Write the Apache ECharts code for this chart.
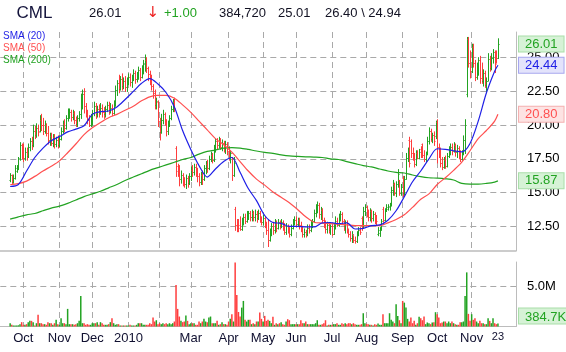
<!DOCTYPE html>
<html>
<head>
<meta charset="utf-8">
<title>CML</title>
<script src="https://cdn.jsdelivr.net/npm/echarts@6/dist/echarts.min.js"></script>
<style>
html, body { margin: 0; padding: 0; background: #fff; }
#main { width: 566px; height: 352px; }
</style>
</head>
<body>
<div id="main"></div>
<script>
var symbolName = 'CML';
var holidays = ['2009-11-26', '2009-12-25', '2010-01-01', '2010-01-18', '2010-02-15',
    '2010-04-02', '2010-05-31', '2010-07-05', '2010-09-06'];
// labels of the month gridlines, in order (Feb has a line but no label)
var monthTicks = ['Oct', 'Nov', 'Dec', '2010', '', 'Mar', 'Apr', 'May', 'Jun', 'Jul', 'Aug', 'Sep', 'Oct', 'Nov'];
var endLabel = '23';
var priceTicks = [12.5, 15, 17.5, 20, 22.5, 25];
var volumeTicks = [5];

// daily bars: [open, close, low, high]
var ohlc = [
    // Sep 2009
    [15.9,16.3,15.8,16.4],[16.3,15.8,15.6,16.3],[15.8,16.1,15.7,16.3],[16.1,16.8,16.0,17.0],[16.6,16.9,16.5,17.0],[16.9,17.5,16.7,17.6],[17.6,18.5,17.4,18.7],[18.5,17.8,17.5,18.6],
    // Oct
    [18.4,17.6,17.3,18.6],[17.6,18.0,17.4,18.3],[18.0,17.7,17.4,18.3],[17.7,18.4,17.6,18.6],[18.4,18.8,18.1,19.0],[18.8,18.5,18.2,19.1],[18.5,19.6,18.4,20.0],[19.6,19.3,19.0,19.9],[19.3,19.8,19.1,20.1],[19.8,19.5,19.2,20.0],[19.6,20.4,19.5,20.7],[20.4,20.0,19.6,20.8],[20.0,19.6,19.3,20.5],[19.6,20.0,19.4,20.3],[20.0,19.4,19.2,20.1],[19.4,18.9,18.6,19.9],[18.9,19.2,18.5,19.4],[19.2,18.7,18.5,19.4],[18.7,19.1,18.4,19.3],[19.1,18.6,18.3,19.3],[18.6,18.9,18.4,19.1],[18.9,18.5,18.3,19.2],
    // Nov
    [18.5,19.0,18.4,19.2],[19.0,19.6,18.9,19.8],[19.6,20.1,19.4,20.3],[20.1,19.8,19.5,20.4],[19.8,20.5,19.7,20.7],[20.5,20.9,20.3,21.2],[20.9,21.0,20.5,21.2],[21.0,20.6,20.3,21.1],[20.6,20.9,20.4,21.1],[20.9,20.4,20.1,21.0],[20.4,20.1,19.9,20.6],[20.1,20.5,19.9,20.7],[20.5,20.8,20.3,21.0],[20.8,21.9,20.5,22.3],[21.9,22.3,21.2,22.6],[22.3,21.4,20.9,22.7],[21.4,20.9,20.6,21.6],[20.9,20.4,20.1,21.1],[20.4,20.0,19.9,20.7],[20.0,20.6,19.9,20.8],
    // Dec
    [20.6,20.9,20.0,21.1],[20.9,21.4,20.7,21.7],[21.4,20.8,20.5,21.6],[20.8,21.2,20.6,21.4],[21.2,20.9,20.6,21.5],[20.9,21.3,20.8,21.6],[21.3,21.0,20.6,21.5],[21.0,20.8,20.5,21.3],[20.8,21.2,20.6,21.4],[21.2,21.5,21.0,21.7],[21.5,21.0,20.8,21.7],[21.0,21.3,20.9,21.6],[21.3,20.9,20.7,21.5],[20.9,21.6,20.8,21.8],[21.6,22.6,21.4,22.9],[22.6,23.1,22.2,23.3],[23.1,22.7,22.4,23.7],[22.7,23.4,22.6,23.6],[23.4,22.9,22.6,23.8],[22.9,23.3,22.7,23.5],[23.3,22.8,22.5,23.6],[22.8,23.2,22.5,23.5],
    // Jan 2010
    [23.2,23.6,23.0,23.8],[23.6,23.2,22.9,23.8],[23.2,23.5,22.8,23.7],[23.5,23.9,23.3,24.1],[23.9,23.4,23.1,24.0],[23.4,23.7,23.2,23.9],[23.7,24.1,23.4,24.3],[24.1,23.6,23.3,24.2],[23.6,24.2,23.5,24.4],[24.2,24.6,23.8,24.8],[24.5,24.9,24.0,25.2],[24.8,24.2,23.9,25.0],[24.2,23.8,23.3,24.3],[23.8,23.5,23.0,24.0],[23.5,22.9,22.6,23.7],[22.9,22.4,22.0,23.0],[22.4,21.5,21.2,22.6],[21.5,21.8,21.2,22.0],[21.7,20.3,19.9,21.8],
    // Feb
    [20.3,19.5,18.9,20.5],[19.5,20.4,19.4,20.8],[20.4,20.8,20.1,21.1],[20.8,20.3,20.0,20.9],[20.3,19.6,19.2,20.4],[19.6,20.1,19.3,20.3],[20.1,20.5,19.9,20.7],[20.5,21.2,20.4,21.4],[21.2,21.6,21.0,21.9],[21.7,21.3,21.0,22.0],[18.3,16.6,16.2,18.4],[17.0,16.5,16.2,17.1],[16.5,16.0,15.5,17.0],[16.0,16.3,15.7,16.6],[16.3,15.8,15.5,16.4],[15.8,15.6,15.4,16.1],[15.6,16.1,15.3,16.3],[16.1,15.7,15.4,16.2],[15.7,16.2,15.6,16.4],
    // Mar
    [16.2,16.7,15.9,16.9],[16.7,16.5,16.2,17.0],[16.5,16.9,16.3,17.1],[16.9,16.6,16.2,17.1],[16.6,16.2,15.8,16.8],[16.2,15.8,15.5,16.4],[15.8,16.3,15.6,16.5],[16.3,16.0,15.6,16.6],[16.0,16.8,15.9,17.0],[16.8,17.1,16.4,17.3],[17.1,16.8,16.5,17.4],[16.8,17.5,16.7,17.7],[17.5,17.8,17.3,18.0],[17.8,17.4,17.2,17.9],[17.4,18.2,17.3,18.5],[18.2,18.8,18.0,19.0],[18.8,18.5,18.2,19.0],[18.5,18.9,18.3,19.1],[18.9,18.4,18.2,19.0],[18.4,18.7,18.1,18.9],[18.7,18.3,18.0,18.8],[18.3,18.6,17.9,18.8],[18.6,18.1,17.8,18.7],
    // Apr
    [18.1,17.6,17.4,18.4],[17.6,17.9,17.2,18.1],[17.9,16.3,15.9,17.6],[16.3,17.2,16.2,17.6],[13.8,12.6,12.2,13.9],[12.6,12.3,12.1,13.0],[12.8,12.4,12.1,13.0],[12.6,12.3,12.2,13.2],[12.3,12.9,12.2,13.1],[12.9,13.2,12.6,13.4],[13.2,12.9,12.7,13.4],[12.9,13.3,12.8,13.6],[13.3,13.5,13.0,13.6],[13.5,13.2,12.9,13.6],[13.2,13.5,12.9,13.7],[13.5,13.2,12.9,13.6],[13.2,13.4,12.9,13.7],[13.4,13.1,12.8,13.6],[13.1,13.5,13.0,13.7],[13.5,13.0,12.8,13.6],[13.0,12.8,12.6,13.2],
    // May
    [12.8,13.1,12.6,13.3],[13.1,12.6,12.4,13.2],[12.6,12.2,11.9,12.8],[12.2,11.5,11.0,13.0],[11.5,12.1,11.4,12.3],[12.1,12.5,11.8,12.7],[12.5,12.2,11.9,12.8],[12.2,12.7,12.0,13.0],[12.7,12.4,12.1,12.9],[12.4,12.8,12.3,13.0],[12.8,12.5,12.3,12.9],[12.5,12.8,12.4,13.0],[12.8,12.4,12.2,12.9],[12.4,12.1,11.9,12.7],[12.1,12.5,11.9,12.7],[12.5,12.2,12.0,12.6],[12.2,11.9,11.7,12.4],[11.9,12.4,11.8,12.6],[12.4,12.8,12.3,13.0],[12.8,13.0,12.6,13.2],
    // Jun
    [13.0,12.7,12.5,13.2],[12.7,13.0,12.5,13.1],[13.0,12.6,12.3,13.1],[12.6,12.3,12.1,12.8],[12.3,11.9,11.7,12.5],[11.9,12.1,11.7,12.3],[12.1,11.9,11.7,12.2],[11.9,12.4,11.8,12.6],[12.4,12.2,12.0,12.6],[12.2,12.7,12.1,12.9],[12.7,12.9,12.4,13.0],[12.9,13.5,12.8,13.7],[13.5,13.9,13.2,14.1],[13.9,14.1,13.5,14.3],[14.1,13.4,13.1,14.2],[13.4,13.7,13.0,13.9],[13.7,13.0,12.8,13.8],[13.0,12.7,12.4,13.1],[12.7,12.3,12.0,12.9],[12.3,12.6,12.0,12.8],[12.6,12.2,12.0,12.7],[12.2,12.5,11.9,12.6],
    // Jul
    [12.5,11.9,11.8,12.6],[11.9,12.4,11.9,12.7],[12.4,12.9,12.3,13.2],[12.9,12.6,12.5,13.1],[12.6,13.2,12.5,13.4],[13.2,13.4,12.9,13.6],[13.4,12.9,12.7,13.5],[12.9,12.5,12.2,13.0],[12.5,12.8,12.0,12.9],[12.8,12.2,12.0,12.9],[12.2,11.9,11.7,12.3],[11.9,11.6,11.4,12.1],[11.6,11.9,11.3,12.1],[11.9,11.5,11.3,11.8],[11.5,11.4,11.25,11.7],[11.4,11.9,11.3,12.1],[11.9,12.2,11.8,12.4],[12.2,12.1,11.9,12.4],[13.1,12.4,12.2,13.2],[12.4,13.6,12.4,13.9],[13.6,13.9,13.3,14.1],
    // Aug
    [13.9,13.4,13.2,14.0],[13.4,13.2,12.9,13.7],[13.2,13.6,12.9,13.8],[13.6,13.1,12.8,13.7],[13.1,13.4,12.9,13.6],[13.4,13.1,12.7,13.5],[13.1,12.9,12.6,13.3],[11.9,12.2,11.8,12.4],[12.0,12.3,11.75,12.4],[12.3,12.9,12.2,13.0],[13.8,13.0,12.8,13.9],[13.0,13.6,12.9,13.8],[13.6,13.9,13.6,14.1],[13.8,14.0,13.7,14.1],[13.9,14.1,13.7,14.2],[14.1,15.2,14.0,15.4],[15.2,15.7,14.8,15.9],[15.6,15.0,14.8,15.7],[15.0,15.6,14.7,15.8],[15.6,16.4,15.4,16.7],[15.9,15.0,14.8,15.9],[15.0,15.4,14.8,15.6],
    // Sep
    [16.1,14.9,14.7,16.2],[15.0,16.0,14.8,16.2],[16.0,17.6,16.0,17.9],[17.6,18.1,17.3,18.3],[18.9,17.2,16.9,19.1],[18.8,17.9,17.6,18.9],[17.9,17.6,17.4,18.3],[17.6,17.1,16.9,17.9],[17.1,17.9,17.0,18.1],[17.9,17.6,17.5,18.1],[17.6,18.0,17.5,18.2],[18.2,17.7,17.6,18.4],[18.6,17.8,17.6,18.6],[17.8,17.5,17.3,18.1],[17.5,17.9,17.3,18.0],[17.9,18.8,17.8,19.1],[18.8,19.6,18.6,19.8],[19.6,19.0,18.8,19.7],[19.0,19.3,18.7,19.4],[19.3,18.8,18.5,19.5],[19.2,20.1,19.0,20.3],
    // Oct
    [20.2,18.4,17.2,20.4],[18.4,18.0,17.6,18.6],[18.0,17.2,16.9,18.3],[17.2,16.9,16.7,17.6],[16.9,17.4,16.8,17.6],[17.4,17.0,16.8,17.7],[17.0,17.7,16.9,17.9],[17.7,18.2,17.6,18.4],[18.2,18.4,17.8,18.6],[18.4,18.1,17.8,18.6],[18.1,18.5,18.0,18.7],[18.5,18.0,17.7,18.6],[18.0,18.3,17.6,18.5],[18.3,17.8,17.5,18.4],[17.8,17.5,17.3,18.1],[17.5,17.9,17.4,18.1],[17.9,18.9,17.8,19.2],[18.9,20.0,17.9,20.4],[22.3,25.8,22.1,26.5],[26.4,24.6,24.3,26.5],[24.6,24.0,23.5,25.5],
    // Nov
    [24.0,25.5,23.9,26.0],[25.8,24.6,24.3,26.0],[24.6,23.6,23.3,24.8],[23.6,24.3,23.4,24.6],[24.3,24.8,23.7,25.0],[24.8,23.5,23.1,25.1],[23.5,23.3,23.1,24.6],[23.3,23.9,22.9,24.1],[23.9,23.2,22.8,24.0],[23.0,23.3,22.4,23.5],[23.3,24.9,23.3,25.3],[24.9,24.2,24.0,25.1],[24.2,25.0,24.1,25.3],[25.0,25.4,24.6,25.6],[25.4,24.5,23.9,25.5],[25.4,25.01,24.6,25.5],[25.01,26.01,24.94,26.40]
];

// daily volume, millions of shares
var volumes = [
    0.41,0.21,0.12,0.12,0.12,0.15,0.29,0.54,
    0.21,0.21,0.29,0.54,0.70,0.70,0.54,0.12,0.41,1.45,0.41,0.41,0.29,0.29,0.21,0.54,0.41,0.41,0.21,0.41,0.83,0.29,
    0.21,1.03,0.41,0.41,0.29,2.19,0.29,0.29,0.29,0.21,0.29,0.41,0.70,3.80,0.41,0.41,0.21,0.29,0.21,0.21,
    0.41,0.41,0.41,0.54,0.21,0.54,0.41,0.21,0.21,0.21,0.29,0.54,1.03,0.41,0.21,0.29,0.29,0.08,0.08,0.08,0.08,0.12,
    0.12,0.21,0.08,0.08,0.12,0.21,0.41,0.41,0.41,0.21,0.21,0.21,0.21,0.41,0.29,1.12,0.62,0.78,0.29,
    0.41,0.29,0.41,0.29,0.41,0.29,0.41,0.29,0.41,0.62,5.16,2.19,1.24,0.70,0.54,0.62,1.36,0.70,0.29,
    0.41,0.41,0.41,0.21,0.21,0.62,0.41,0.62,0.95,0.62,0.54,1.12,1.24,0.41,0.41,0.41,0.70,0.21,0.29,0.54,0.29,0.29,0.21,
    0.62,0.95,1.53,0.62,7.97,3.92,1.80,1.24,2.35,3.18,0.83,0.62,0.83,0.83,0.29,0.41,0.29,0.62,0.62,1.73,0.95,
    0.62,1.32,0.70,0.83,0.70,0.41,1.20,0.21,0.41,0.29,0.41,0.54,0.29,0.21,0.62,0.91,0.78,0.29,0.29,0.29,
    0.29,0.29,0.29,0.78,0.41,0.41,0.62,0.29,0.29,0.29,0.29,0.29,0.41,0.78,0.21,0.21,0.29,0.41,0.78,0.12,0.21,0.21,
    0.21,0.29,0.29,0.41,0.21,0.21,0.41,0.29,0.41,0.29,0.41,0.41,0.29,0.41,0.29,0.21,0.21,0.21,0.29,1.65,0.41,
    0.33,0.29,0.21,0.21,0.12,0.29,0.21,0.37,0.21,0.21,1.53,0.41,0.41,0.41,1.65,0.83,0.62,0.41,2.77,1.32,0.78,0.41,
    3.18,2.97,2.35,0.95,0.62,1.12,0.41,0.70,0.21,0.41,1.20,1.03,0.78,1.24,0.29,0.50,0.41,0.29,0.50,0.54,1.78,
    1.53,1.12,0.41,0.50,0.62,0.62,0.41,0.62,0.41,0.62,0.41,0.29,0.21,0.21,0.54,0.54,0.62,3.80,6.73,1.57,0.70,
    1.53,0.83,1.03,0.62,0.41,0.70,0.41,0.41,0.29,0.29,1.03,0.70,0.41,1.03,0.41,0.29,0.38472
];

// moving averages read every 5th trading day (day index from the first bar)
var smaDays = [0,5,10,15,20,25,30,35,40,45,50,55,60,65,70,75,80,85,90,95,100,105,110,115,120,125,130,135,140,145,
    150,155,160,165,170,175,180,185,190,195,200,205,210,215,220,225,230,235,240,245,250,255,260,265,270,275,280,285,290,295,297];
var sma20 = [15.45,15.6,16.6,17.6,18.3,18.85,19.15,19.5,19.7,19.95,20.8,21.0,21.05,21.35,21.9,22.5,23.1,23.45,23.05,22.4,
    21.35,19.6,18.2,17.0,16.15,16.75,17.3,17.6,16.5,15.3,14.4,13.3,12.78,12.72,12.5,12.5,12.45,12.45,12.75,12.78,
    12.7,12.75,12.3,12.35,12.55,12.6,12.95,13.65,14.7,15.8,16.6,17.5,18.25,18.2,18.1,18.02,18.64,20.3,22.4,24.0,24.44];
var sma50 = [15.58,15.66,15.85,16.2,16.6,16.95,17.35,17.95,18.6,19.3,19.8,20.2,20.55,20.8,21.1,21.4,21.8,22.1,22.2,22.2,
    22.0,21.5,20.95,20.3,19.65,19.0,18.55,18.0,17.3,16.6,16.0,15.55,15.05,14.65,14.25,13.75,13.2,12.8,12.74,12.7,
    12.65,12.6,12.55,12.55,12.55,12.55,12.75,13.0,13.35,13.9,14.5,14.9,15.6,16.1,16.65,17.25,18.1,19.0,19.6,20.3,20.8];
var sma200 = [13.03,13.2,13.35,13.45,13.65,13.85,14.0,14.2,14.45,14.7,14.9,15.1,15.35,15.6,15.9,16.15,16.4,16.65,16.85,17.05,
    17.25,17.45,17.6,17.85,18.05,18.15,18.3,18.33,18.3,18.2,18.08,17.98,17.9,17.8,17.72,17.68,17.65,17.63,17.6,17.5,
    17.45,17.3,17.15,17.0,16.9,16.75,16.6,16.5,16.45,16.3,16.18,16.1,16.07,16.02,15.93,15.68,15.62,15.62,15.68,15.78,15.87];

var GREEN = '#22a322', RED = '#ff3d3d', BLUE = '#1f1fe6', SMA_RED = '#ff5050';
var FONT = '"Liberation Sans", Arial, "DejaVu Sans", sans-serif';
var GRID = '#a9a9a9', FRAME = '#bcbcbc';

// trading days, first bar Sep 21 2009, last Nov 23 2010
var dates = [];
for (var d = new Date(Date.UTC(2009, 8, 21)); d.getTime() <= Date.UTC(2010, 10, 23); d.setUTCDate(d.getUTCDate() + 1)) {
    var s = d.toISOString().slice(0, 10);
    if (d.getUTCDay() === 0 || d.getUTCDay() === 6 || holidays.indexOf(s) >= 0) continue;
    dates.push(s);
}

var padL = 6, padR = 11;
var cats = [];
for (var k = 0; k < padL; k++) cats.push('l' + k);
dates.forEach(function (s) { cats.push(s); });
for (k = 0; k < padR; k++) cats.push('r' + k);

var tickText = {}, m = 0;
for (k = 1; k < dates.length; k++) {
    if (dates[k].slice(0, 7) !== dates[k - 1].slice(0, 7)) tickText[padL + k] = monthTicks[m++];
}
var endIdx = padL + dates.length - 1;

function isTick(idx) { return tickText.hasOwnProperty(idx); }

var barData = ohlc.map(function (r, i) { return [padL + i, r[0], r[1], r[2], r[3]]; });
var volData = volumes.map(function (v, i) { return [padL + i, v, ohlc[i][1] >= ohlc[i][0] ? 1 : 0]; });
function smaData(arr) { return smaDays.map(function (ix, j) { return [padL + ix, arr[j]]; }); }

var last = ohlc[ohlc.length - 1], prev = ohlc[ohlc.length - 2];
var lastVol = volumes[volumes.length - 1];

function box(v, text, fg, bg, bd, extra) {
    var lb = { show: true, position: 'end', distance: 3, opacity: 1, formatter: text, color: fg,
        backgroundColor: bg, borderColor: bd, borderWidth: 1,
        padding: [2, 6, 0, 6], fontSize: 13, fontFamily: FONT };
    for (var key in extra) lb[key] = extra[key];
    return { yAxis: v, label: lb, lineStyle: { width: 0, color: 'rgba(0,0,0,0)' } };
}
function valueLines(items) {
    return { silent: true, symbol: ['none', 'none'], animation: false,
        lineStyle: { width: 0, color: 'rgba(0,0,0,0)' },
        label: { show: true, position: 'end', distance: 3 }, data: items };
}

var dashed = { type: [6, 4], color: GRID, width: 1 };
var chart = echarts.init(document.getElementById('main'));

var hdr = { fill: '#111122', font: '13px ' + FONT, verticalAlign: 'middle' };
function htext(x, text, style) {
    var st = { text: text };
    for (var key in hdr) st[key] = hdr[key];
    for (key in style) st[key] = style[key];
    return { type: 'text', x: x, y: 13, style: st };
}

chart.setOption({
    animation: false,
    backgroundColor: '#fff',
    graphic: [
        htext(16.5, symbolName, { font: '17px ' + FONT, fill: '#14143c' }),
        htext(89, last[1].toFixed(2)),
        htext(146.5, '\u2193', { fill: '#ee2222', font: '15px "DejaVu Sans", ' + FONT }),
        htext(164, '+' + (last[1] - prev[1]).toFixed(2), { fill: GREEN }),
        htext(219, Math.round(lastVol * 1e6).toString().replace(/\B(?=(\d{3})+(?!\d))/g, ',')),
        htext(278, last[0].toFixed(2)),
        htext(325, last[3].toFixed(2) + ' \\ ' + last[2].toFixed(2))
    ],
    legend: {
        orient: 'vertical', left: -2, top: 31, padding: 0, itemWidth: 0, itemHeight: 10, itemGap: 2.2,
        icon: 'none', selectedMode: false, z: 10,
        textStyle: { fontSize: 10, fontFamily: FONT },
        data: [
            { name: 'SMA (20)', textStyle: { color: BLUE } },
            { name: 'SMA (50)', textStyle: { color: SMA_RED } },
            { name: 'SMA (200)', textStyle: { color: GREEN } }
        ]
    },
    grid: [
        { left: 0.3, right: 50, top: 32, height: 218.7 },
        { left: 0.3, right: 50, top: 262, height: 64.5 }
    ],
    xAxis: [
        {
            type: 'category', gridIndex: 0, data: cats, boundaryGap: false,
            axisLine: { show: true, lineStyle: { color: FRAME, width: 1.5 } },
            axisTick: { show: false }, axisLabel: { show: false },
            splitLine: { show: true, interval: isTick, lineStyle: dashed }
        },
        {
            type: 'category', gridIndex: 1, data: cats, boundaryGap: false,
            axisLine: { show: true, lineStyle: { color: FRAME } },
            axisTick: { show: false },
            axisLabel: {
                interval: function (idx) { return (isTick(idx) && tickText[idx] !== '') || idx === endIdx; },
                formatter: function (val, idx) { return idx === endIdx ? '{s|' + endLabel + '}' : (tickText[idx] || ''); },
                color: '#101030', fontSize: 13, fontFamily: FONT, margin: 5,
                rich: { s: { fontSize: 11, fontFamily: FONT, color: '#101030', padding: [0, 0, 4, 0] } }
            },
            splitLine: { show: true, interval: isTick, lineStyle: dashed }
        }
    ],
    yAxis: [
        {
            type: 'value', gridIndex: 0, position: 'right', min: 10.69, max: 26.905, scale: true,
            axisLine: { show: true, lineStyle: { color: FRAME } },
            axisTick: { show: false, customValues: priceTicks },
            axisLabel: { customValues: priceTicks, formatter: function (v) { return v.toFixed(2); },
                color: '#000', fontSize: 13, fontFamily: FONT, margin: 11 },
            splitLine: { show: true, lineStyle: dashed }
        },
        {
            type: 'value', gridIndex: 1, position: 'right', min: 0, max: 8.02,
            axisLine: { show: true, lineStyle: { color: FRAME } },
            axisTick: { show: false, customValues: volumeTicks },
            axisLabel: { customValues: volumeTicks, formatter: function (v) { return v.toFixed(1) + 'M'; },
                color: '#000', fontSize: 13, fontFamily: FONT, margin: 11 },
            splitLine: { show: true, lineStyle: dashed }
        }
    ],
    series: [
        {
            name: 'price', type: 'custom', xAxisIndex: 0, yAxisIndex: 0, z: 2,
            data: barData, encode: { x: 0, y: [3, 4] },
            renderItem: function (params, api) {
                var i = api.value(0);
                var lo = api.coord([i, api.value(3)]);
                var hi = api.coord([i, api.value(4)]);
                var op = api.coord([i, api.value(1)]);
                var cl = api.coord([i, api.value(2)]);
                var x = Math.round(lo[0]) + 0.5;
                var col = api.value(2) >= api.value(1) ? GREEN : RED;
                var st = { stroke: col, lineWidth: 1 };
                var oy = Math.round(op[1]) + 0.5, cy = Math.round(cl[1]) + 0.5;
                return { type: 'group', children: [
                    { type: 'line', shape: { x1: x, y1: lo[1] + 0.5, x2: x, y2: hi[1] - 0.5 }, style: st },
                    { type: 'line', shape: { x1: x - 1, y1: oy, x2: x, y2: oy }, style: st },
                    { type: 'line', shape: { x1: x, y1: cy, x2: x + 1, y2: cy }, style: st }
                ] };
            }
        },
        {
            name: 'volume', type: 'custom', xAxisIndex: 1, yAxisIndex: 1, z: 2,
            data: volData, encode: { x: 0, y: 1 },
            renderItem: function (params, api) {
                var top = api.coord([api.value(0), api.value(1)]);
                var base = api.coord([api.value(0), 0]);
                var h = Math.max(base[1] - top[1], 1);
                return { type: 'rect', shape: { x: top[0] - 0.75, y: base[1] - h, width: 1.5, height: h },
                    style: { fill: api.value(2) ? GREEN : RED } };
            }
        },
        {
            name: 'SMA (200)', type: 'line', xAxisIndex: 0, yAxisIndex: 0, z: 3,
            data: smaData(sma200), showSymbol: false, smooth: 0.3, color: GREEN,
            lineStyle: { width: 1.2, color: GREEN }
        },
        {
            name: 'SMA (50)', type: 'line', xAxisIndex: 0, yAxisIndex: 0, z: 3,
            data: smaData(sma50), showSymbol: false, smooth: 0.3, color: SMA_RED,
            lineStyle: { width: 1.2, color: SMA_RED }
        },
        {
            name: 'SMA (20)', type: 'line', xAxisIndex: 0, yAxisIndex: 0, z: 4,
            data: smaData(sma20), showSymbol: false, smooth: 0.3, color: BLUE,
            lineStyle: { width: 1.2, color: BLUE },
            markLine: valueLines([
                box(last[1], last[1].toFixed(2), GREEN, '#d6f2d6', '#a9dea9'),
                box(sma20[sma20.length - 1], sma20[sma20.length - 1].toFixed(2), BLUE, '#e3e3fb', '#a6a6ee'),
                box(sma50[sma50.length - 1], sma50[sma50.length - 1].toFixed(2), SMA_RED, '#fde3e3', '#f3b0b0'),
                box(sma200[sma200.length - 1], sma200[sma200.length - 1].toFixed(2), GREEN, '#d6f2d6', '#a9dea9')
            ])
        },
        {
            name: 'last volume', type: 'line', xAxisIndex: 1, yAxisIndex: 1, z: 4,
            data: [[padL + volumes.length - 1, lastVol]], showSymbol: false, lineStyle: { opacity: 0 },
            markLine: valueLines([
                box(lastVol, (lastVol * 1000).toFixed(1) + 'K', GREEN, '#d6f2d6', '#a9dea9', { verticalAlign: 'bottom' })
            ])
        }
    ]
});
</script>
</body>
</html>
